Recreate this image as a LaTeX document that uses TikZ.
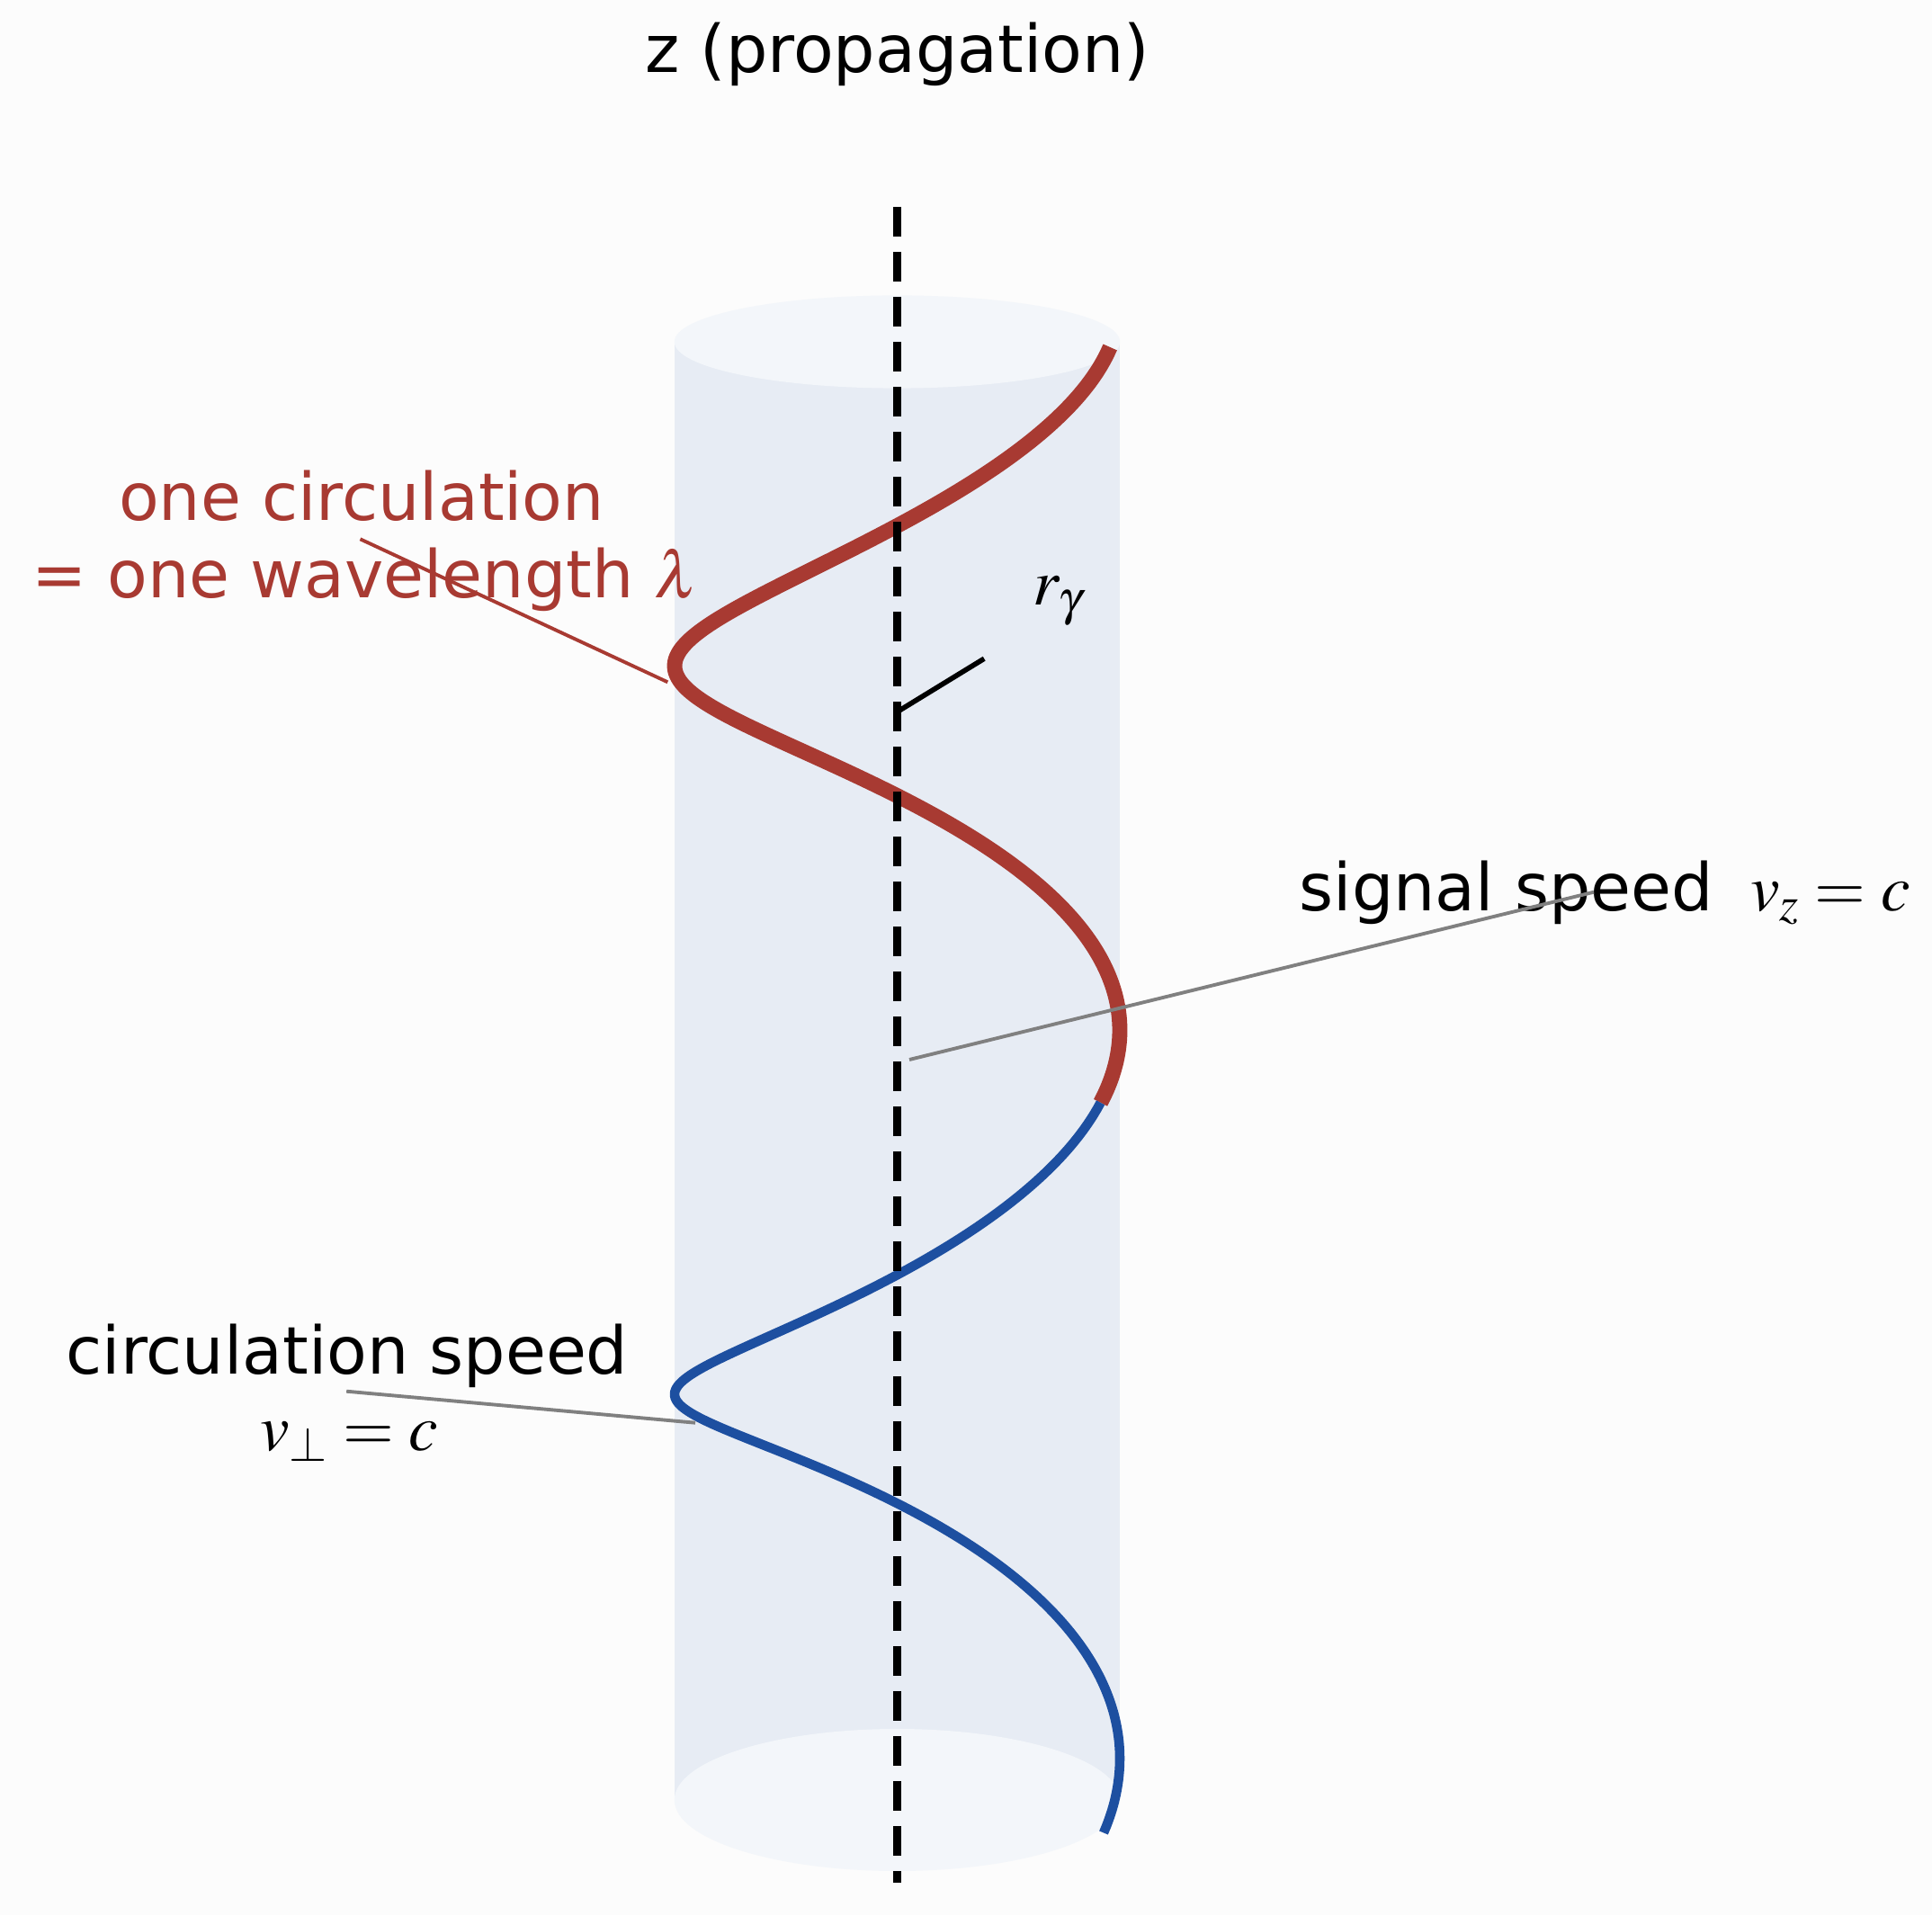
\documentclass[tikz,border=0pt]{standalone}
\usepackage{mathptmx}
\usepackage{fontspec}
\setmainfont{DejaVu Sans}
\usepackage{tikz}
\usetikzlibrary{calc,positioning}
\definecolor{helixred}{RGB}{168,58,50}
\definecolor{helixblue}{RGB}{29,79,160}
\definecolor{cylbody}{RGB}{231,236,244}
\definecolor{cylface}{RGB}{243,246,250}
\definecolor{leadgray}{RGB}{128,128,128}
\definecolor{paper}{RGB}{252,252,252}
\tikzset{%
	lbl/.style       = {font=\fontsize{20.8}{25}\selectfont, inner sep=0pt, anchor=base}, % Text
	redlbl/.style    = {lbl, text=helixred}, % Red text
	leader/.style    = {draw=leadgray, line width=1.1pt}, % Pointer
	redleader/.style = {draw=helixred, line width=1.1pt}, % Red pointer
	zaxis/.style     = {line width=2.7pt, dash pattern=on 0.33cm off 0.17cm},
	redhelix/.style  = {draw=helixred, line width=4.8pt},
	bluehelix/.style = {draw=helixblue, line width=3pt},
}

\begin{document}
\begin{tikzpicture}
	\useasboundingbox[fill=paper] (0,0) rectangle (21.48,21.29);
	
	% cylinder
	\fill[cylbody] (7.498,1.28) rectangle (12.452,17.49);
	\fill[cylface] (9.975,17.49) ellipse (2.477 and 0.516);
	\fill[cylface] (9.975,1.28) ellipse (2.477 and 0.79);
	
	% helix
	\draw[redhelix] plot[domain=17:384, samples=160, smooth, variable=\t]
		({9.975+2.475*cos(\t)}, {17.935-0.02249*\t-(0.408+0.000646*\t)*sin(\t)});
	\draw[bluehelix] plot[domain=384:742, samples=160, smooth, variable=\t]
		({9.975+2.475*cos(\t)}, {17.935-0.02249*\t-(0.408+0.000646*\t)*sin(\t)});
	
	\coordinate (ztop) at (9.975,18.99);
	\coordinate (zbot) at (9.975,0.36);
	\draw[zaxis] (ztop) -- (zbot);
	
	\coordinate (rfoot) at (10.004,13.394);
	\coordinate (rtip) at (10.942,13.968);
	\draw[line width=1.6pt] (rfoot) -- (rtip);
	
	\node[lbl] (title) at (9.975,20.48) {z (propagation)};
	\node[lbl,anchor=center] (rgamma) at (11.77,14.61) {$r_\gamma$};
	\node[redlbl] (circ) at (4.02,15.50) {one circulation};
	\node[redlbl] (wave) at (4.06,14.64) {= one wavelength $\lambda$};
	\node[lbl,anchor=base west] (signal) at (14.44,11.163) {signal speed};
	\node[lbl,base right=0.40cm of signal] (vz) {$v_z = c$};
	\node[lbl] (circspeed) at (3.86,6.02) {circulation speed};
	\node[lbl] (vperp) at (3.88,5.17) {$v_\perp = c$};
	
	\coordinate (wavept) at (4.005,15.297);
	\coordinate (redtip) at (7.423,13.707);
	\draw[redleader] (wavept) -- (redtip);
	\coordinate (zpt) at (10.11,9.51);
	\coordinate (signalpt) at (17.72,11.373);
	\draw[leader] (zpt) -- (signalpt);
	\coordinate (speedpt) at (3.852,5.823);
	\coordinate (bluetip) at (7.73,5.473);
	\draw[leader] (speedpt) -- (bluetip);
\end{tikzpicture}
\end{document}
